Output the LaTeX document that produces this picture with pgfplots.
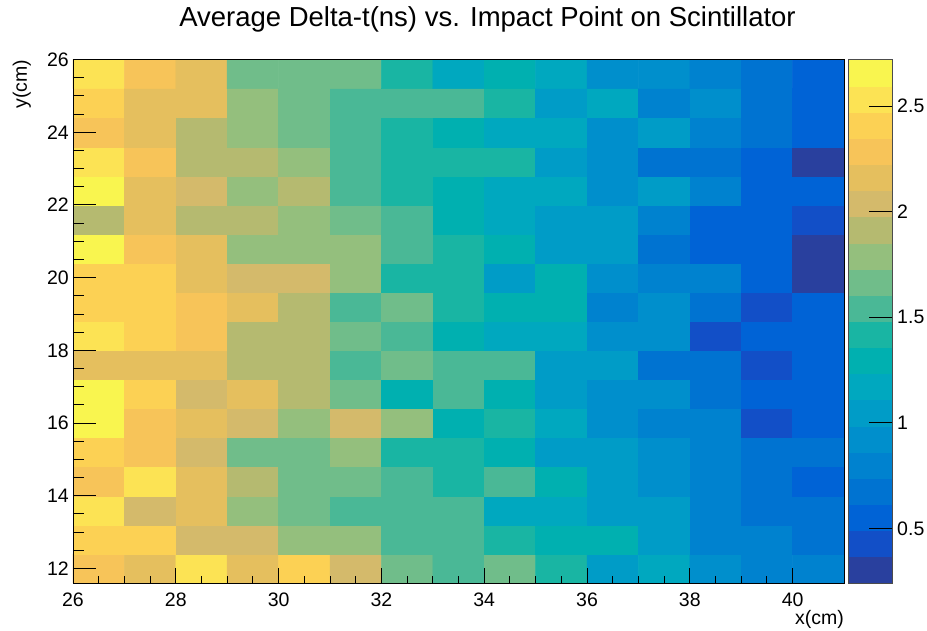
\documentclass[border=0pt]{standalone}
\usepackage{pgfplots}
\pgfplotsset{compat=1.18}
\usepackage{fontspec}
\setmainfont{Liberation Sans}

\pgfplotsset{
  colormap={rootbird}{
    rgb=(0.16,0.25,0.62)
    rgb=(0.07,0.31,0.78)
    rgb=(0.00,0.39,0.84)
    rgb=(0.00,0.45,0.82)
    rgb=(0.00,0.51,0.81)
    rgb=(0.00,0.56,0.80)
    rgb=(0.00,0.61,0.78)
    rgb=(0.00,0.66,0.75)
    rgb=(0.00,0.69,0.69)
    rgb=(0.10,0.71,0.64)
    rgb=(0.29,0.72,0.59)
    rgb=(0.44,0.74,0.54)
    rgb=(0.58,0.75,0.49)
    rgb=(0.71,0.73,0.44)
    rgb=(0.83,0.73,0.42)
    rgb=(0.90,0.75,0.37)
    rgb=(0.97,0.77,0.35)
    rgb=(0.99,0.82,0.33)
    rgb=(0.99,0.89,0.33)
    rgb=(0.976,0.961,0.31)
  }
}

\begin{document}
\begin{tikzpicture}[x=1pt,y=1pt]
\useasboundingbox (-73,-47) rectangle (854,583);
\begin{axis}[
  at={(0,0)}, anchor=south west,
  scale only axis,
  width=771pt, height=523.5pt,
  xmin=26, xmax=41, ymin=11.6, ymax=26,
  enlargelimits=false,
  axis on top,
  colormap name=rootbird,
  colormap access=piecewise constant,
  point meta min=0.242, point meta max=2.721,
  xtick={26,28,...,40}, ytick={12,14,...,26},
  minor x tick num=3, minor y tick num=3,
  tick align=inside,
  xtick pos=bottom, ytick pos=left,
  xtick style={black, line width=0.9pt, /pgfplots/major tick length=15pt, /pgfplots/minor tick length=7.5pt},
  ytick style={black, line width=0.9pt, /pgfplots/major tick length=23pt, /pgfplots/minor tick length=11.5pt},
  axis line style={black, line width=0.9pt},
  /pgf/number format/assume math mode=true,
  ticklabel style={font=\fontsize{19.5}{20}\selectfont},
  xticklabel style={anchor=north, inner sep=0pt, yshift=-10pt},
  yticklabel style={anchor=east, inner sep=0pt, xshift=-4pt},
  title={Average Delta-t(ns) vs. Impact Point on Scintillator},
  title style={at={(rel axis cs:0.5376,1)}, anchor=base, yshift=26.5pt, inner sep=0pt, font=\fontsize{27.5}{30}\selectfont},
  xlabel={x(cm)},
  xlabel style={at={(rel axis cs:1,-0.0802)}, anchor=base east, inner sep=0pt, font=\fontsize{19.5}{20}\selectfont},
  ylabel={y(cm)},
  ylabel style={at={(rel axis cs:-0.0597,1)}, anchor=base east, inner sep=0pt, rotate=0, font=\fontsize{19.5}{20}\selectfont},
  colorbar right,
  colorbar style={
    at={(parent axis.north east)}, anchor=north west, xshift=-4.4pt,
    width=44.4pt,
    ytick={0.5,1,1.5,2,2.5},
    minor y tick num=0,
    ytick pos=right, yticklabel pos=right,
    tick align=inside,
    major tick length=24pt,
    tick style={black, line width=1pt},
    axis line style={gray!60!black, line width=0.6pt},
    /pgf/number format/assume math mode=true,
    yticklabel style={font=\fontsize{19.5}{20}\selectfont, anchor=west, inner sep=0pt, xshift=4.5pt},
  },
]
\addplot[matrix plot*, mesh/cols=15, mesh/rows=18, point meta=explicit]
table[x=x, y=y, meta=c, row sep=\\] {
x y c\\
26.5 12.0 2.286\\ 27.5 12.0 2.163\\ 28.5 12.0 2.534\\ 29.5 12.0 2.163\\ 30.5 12.0 2.410\\ 31.5 12.0 2.039\\ 32.5 12.0 1.667\\ 33.5 12.0 1.543\\ 34.5 12.0 1.667\\ 35.5 12.0 1.419\\ 36.5 12.0 1.047\\ 37.5 12.0 1.171\\ 38.5 12.0 0.924\\ 39.5 12.0 0.800\\ 40.5 12.0 0.800\\
26.5 12.8 2.410\\ 27.5 12.8 2.410\\ 28.5 12.8 2.039\\ 29.5 12.8 2.039\\ 30.5 12.8 1.791\\ 31.5 12.8 1.791\\ 32.5 12.8 1.543\\ 33.5 12.8 1.543\\ 34.5 12.8 1.419\\ 35.5 12.8 1.295\\ 36.5 12.8 1.295\\ 37.5 12.8 1.047\\ 38.5 12.8 0.800\\ 39.5 12.8 0.800\\ 40.5 12.8 0.676\\
26.5 13.6 2.534\\ 27.5 13.6 2.039\\ 28.5 13.6 2.163\\ 29.5 13.6 1.791\\ 30.5 13.6 1.667\\ 31.5 13.6 1.543\\ 32.5 13.6 1.543\\ 33.5 13.6 1.543\\ 34.5 13.6 1.171\\ 35.5 13.6 1.171\\ 36.5 13.6 1.047\\ 37.5 13.6 1.047\\ 38.5 13.6 0.800\\ 39.5 13.6 0.676\\ 40.5 13.6 0.676\\
26.5 14.4 2.286\\ 27.5 14.4 2.534\\ 28.5 14.4 2.163\\ 29.5 14.4 1.915\\ 30.5 14.4 1.667\\ 31.5 14.4 1.667\\ 32.5 14.4 1.543\\ 33.5 14.4 1.419\\ 34.5 14.4 1.543\\ 35.5 14.4 1.295\\ 36.5 14.4 1.047\\ 37.5 14.4 0.924\\ 38.5 14.4 0.800\\ 39.5 14.4 0.676\\ 40.5 14.4 0.552\\
26.5 15.2 2.410\\ 27.5 15.2 2.286\\ 28.5 15.2 2.039\\ 29.5 15.2 1.667\\ 30.5 15.2 1.667\\ 31.5 15.2 1.791\\ 32.5 15.2 1.419\\ 33.5 15.2 1.419\\ 34.5 15.2 1.295\\ 35.5 15.2 1.047\\ 36.5 15.2 1.047\\ 37.5 15.2 0.924\\ 38.5 15.2 0.800\\ 39.5 15.2 0.676\\ 40.5 15.2 0.676\\
26.5 16.0 2.658\\ 27.5 16.0 2.286\\ 28.5 16.0 2.163\\ 29.5 16.0 2.039\\ 30.5 16.0 1.791\\ 31.5 16.0 2.039\\ 32.5 16.0 1.791\\ 33.5 16.0 1.295\\ 34.5 16.0 1.419\\ 35.5 16.0 1.171\\ 36.5 16.0 0.924\\ 37.5 16.0 0.800\\ 38.5 16.0 0.800\\ 39.5 16.0 0.428\\ 40.5 16.0 0.552\\
26.5 16.8 2.658\\ 27.5 16.8 2.410\\ 28.5 16.8 2.039\\ 29.5 16.8 2.163\\ 30.5 16.8 1.915\\ 31.5 16.8 1.667\\ 32.5 16.8 1.295\\ 33.5 16.8 1.543\\ 34.5 16.8 1.295\\ 35.5 16.8 1.047\\ 36.5 16.8 0.924\\ 37.5 16.8 0.924\\ 38.5 16.8 0.676\\ 39.5 16.8 0.552\\ 40.5 16.8 0.552\\
26.5 17.6 2.163\\ 27.5 17.6 2.163\\ 28.5 17.6 2.163\\ 29.5 17.6 1.915\\ 30.5 17.6 1.915\\ 31.5 17.6 1.543\\ 32.5 17.6 1.667\\ 33.5 17.6 1.543\\ 34.5 17.6 1.543\\ 35.5 17.6 1.047\\ 36.5 17.6 1.047\\ 37.5 17.6 0.676\\ 38.5 17.6 0.676\\ 39.5 17.6 0.428\\ 40.5 17.6 0.552\\
26.5 18.4 2.534\\ 27.5 18.4 2.410\\ 28.5 18.4 2.286\\ 29.5 18.4 1.915\\ 30.5 18.4 1.915\\ 31.5 18.4 1.667\\ 32.5 18.4 1.543\\ 33.5 18.4 1.295\\ 34.5 18.4 1.171\\ 35.5 18.4 1.171\\ 36.5 18.4 0.924\\ 37.5 18.4 0.924\\ 38.5 18.4 0.428\\ 39.5 18.4 0.552\\ 40.5 18.4 0.552\\
26.5 19.2 2.410\\ 27.5 19.2 2.410\\ 28.5 19.2 2.286\\ 29.5 19.2 2.163\\ 30.5 19.2 1.915\\ 31.5 19.2 1.543\\ 32.5 19.2 1.667\\ 33.5 19.2 1.419\\ 34.5 19.2 1.295\\ 35.5 19.2 1.295\\ 36.5 19.2 0.800\\ 37.5 19.2 0.924\\ 38.5 19.2 0.676\\ 39.5 19.2 0.428\\ 40.5 19.2 0.552\\
26.5 20.0 2.410\\ 27.5 20.0 2.410\\ 28.5 20.0 2.163\\ 29.5 20.0 2.039\\ 30.5 20.0 2.039\\ 31.5 20.0 1.791\\ 32.5 20.0 1.419\\ 33.5 20.0 1.419\\ 34.5 20.0 1.047\\ 35.5 20.0 1.295\\ 36.5 20.0 0.924\\ 37.5 20.0 0.800\\ 38.5 20.0 0.800\\ 39.5 20.0 0.552\\ 40.5 20.0 0.304\\
26.5 20.8 2.658\\ 27.5 20.8 2.286\\ 28.5 20.8 2.163\\ 29.5 20.8 1.791\\ 30.5 20.8 1.791\\ 31.5 20.8 1.791\\ 32.5 20.8 1.543\\ 33.5 20.8 1.419\\ 34.5 20.8 1.295\\ 35.5 20.8 1.047\\ 36.5 20.8 1.047\\ 37.5 20.8 0.676\\ 38.5 20.8 0.552\\ 39.5 20.8 0.552\\ 40.5 20.8 0.304\\
26.5 21.6 1.915\\ 27.5 21.6 2.163\\ 28.5 21.6 1.915\\ 29.5 21.6 1.915\\ 30.5 21.6 1.791\\ 31.5 21.6 1.667\\ 32.5 21.6 1.543\\ 33.5 21.6 1.295\\ 34.5 21.6 1.171\\ 35.5 21.6 1.047\\ 36.5 21.6 1.047\\ 37.5 21.6 0.800\\ 38.5 21.6 0.552\\ 39.5 21.6 0.552\\ 40.5 21.6 0.428\\
26.5 22.4 2.658\\ 27.5 22.4 2.163\\ 28.5 22.4 2.039\\ 29.5 22.4 1.791\\ 30.5 22.4 1.915\\ 31.5 22.4 1.543\\ 32.5 22.4 1.419\\ 33.5 22.4 1.295\\ 34.5 22.4 1.171\\ 35.5 22.4 1.171\\ 36.5 22.4 0.924\\ 37.5 22.4 1.047\\ 38.5 22.4 0.800\\ 39.5 22.4 0.552\\ 40.5 22.4 0.552\\
26.5 23.2 2.534\\ 27.5 23.2 2.286\\ 28.5 23.2 1.915\\ 29.5 23.2 1.915\\ 30.5 23.2 1.791\\ 31.5 23.2 1.543\\ 32.5 23.2 1.419\\ 33.5 23.2 1.419\\ 34.5 23.2 1.419\\ 35.5 23.2 1.047\\ 36.5 23.2 0.924\\ 37.5 23.2 0.676\\ 38.5 23.2 0.676\\ 39.5 23.2 0.552\\ 40.5 23.2 0.304\\
26.5 24.0 2.286\\ 27.5 24.0 2.163\\ 28.5 24.0 1.915\\ 29.5 24.0 1.791\\ 30.5 24.0 1.667\\ 31.5 24.0 1.543\\ 32.5 24.0 1.419\\ 33.5 24.0 1.295\\ 34.5 24.0 1.171\\ 35.5 24.0 1.171\\ 36.5 24.0 0.924\\ 37.5 24.0 1.047\\ 38.5 24.0 0.800\\ 39.5 24.0 0.676\\ 40.5 24.0 0.552\\
26.5 24.8 2.410\\ 27.5 24.8 2.163\\ 28.5 24.8 2.163\\ 29.5 24.8 1.791\\ 30.5 24.8 1.667\\ 31.5 24.8 1.543\\ 32.5 24.8 1.543\\ 33.5 24.8 1.543\\ 34.5 24.8 1.419\\ 35.5 24.8 1.047\\ 36.5 24.8 1.171\\ 37.5 24.8 0.800\\ 38.5 24.8 0.924\\ 39.5 24.8 0.676\\ 40.5 24.8 0.552\\
26.5 25.6 2.534\\ 27.5 25.6 2.286\\ 28.5 25.6 2.163\\ 29.5 25.6 1.667\\ 30.5 25.6 1.667\\ 31.5 25.6 1.667\\ 32.5 25.6 1.419\\ 33.5 25.6 1.171\\ 34.5 25.6 1.295\\ 35.5 25.6 1.171\\ 36.5 25.6 0.924\\ 37.5 25.6 0.924\\ 38.5 25.6 0.800\\ 39.5 25.6 0.676\\ 40.5 25.6 0.552\\
};
\end{axis}
\end{tikzpicture}
\end{document}
